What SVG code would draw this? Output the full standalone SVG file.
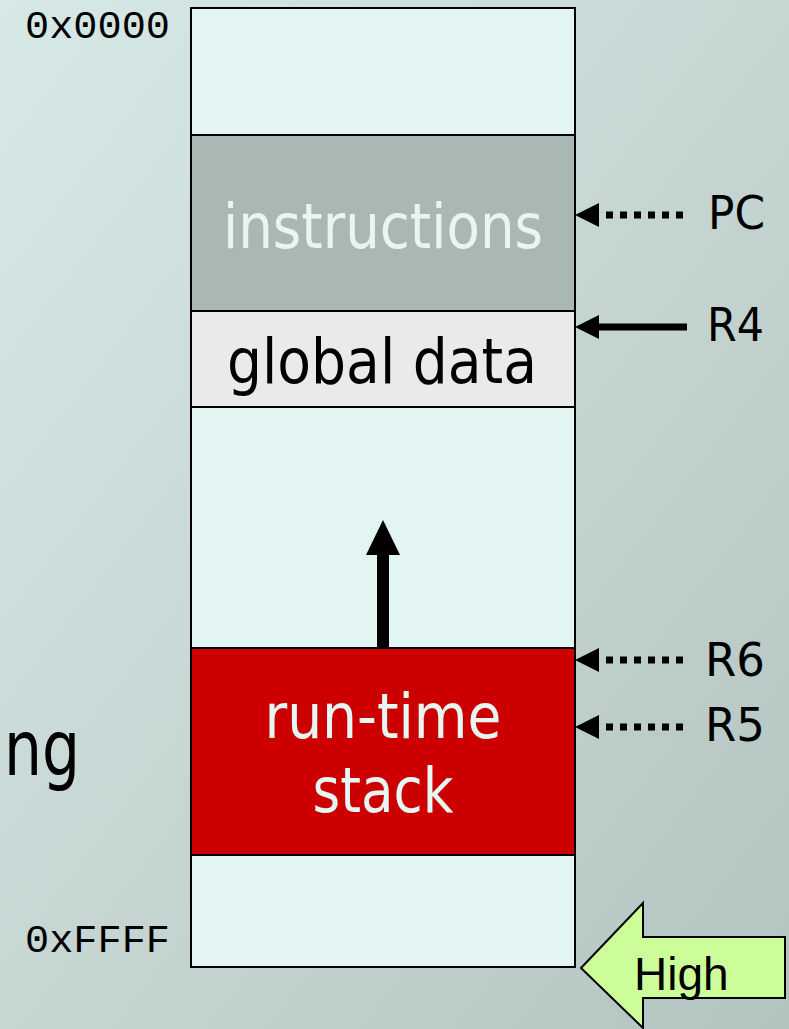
<svg xmlns="http://www.w3.org/2000/svg" width="789" height="1029" viewBox="0 0 789 1029">
<defs>
<linearGradient id="bg" x1="0" y1="0" x2="1" y2="1">
<stop offset="0" stop-color="#d7e9e6"/>
<stop offset="1" stop-color="#b3c3c0"/>
</linearGradient>
<style>
.seg{stroke:#000;stroke-width:2}
.lbl{font-family:"DejaVu Sans",Verdana,sans-serif;text-anchor:middle}
.reg{font-family:"DejaVu Sans",Verdana,sans-serif;font-size:46px;fill:#000}
.mono{font-family:"Liberation Mono","Courier New",monospace;font-size:38px;fill:#000}
.ptr{stroke:#000;stroke-width:7;fill:none}
.dot{stroke-dasharray:7 7}
</style>
</defs>
<rect x="0" y="0" width="789" height="1029" fill="url(#bg)"/>
<text x="4" y="775" textLength="76" lengthAdjust="spacingAndGlyphs" style="font-family:'DejaVu Sans',Verdana,sans-serif;font-size:77px" fill="#000">ng</text>
<g id="memory">
<rect class="seg" x="191" y="8" width="384" height="959" fill="#e3f5f2"/>
</g>
<g id="instructions">
<rect class="seg" x="191" y="135" width="384" height="176" fill="#a9b8b5"/>
<text class="lbl" x="383" y="248" font-size="62" fill="#e6f6f2" textLength="320" lengthAdjust="spacingAndGlyphs">instructions</text>
</g>
<g id="global-data">
<rect class="seg" x="191" y="311" width="384" height="96" fill="#e9ebeb"/>
<text class="lbl" x="382" y="383" font-size="62" fill="#000" textLength="310" lengthAdjust="spacingAndGlyphs">global data</text>
</g>
<g id="stack">
<rect class="seg" x="191" y="648" width="384" height="207" fill="#cc0000"/>
<text class="lbl" x="383" y="738" font-size="62" fill="#e6f6f2" textLength="237" lengthAdjust="spacingAndGlyphs">run-time</text>
<text class="lbl" x="383" y="812" font-size="62" fill="#e6f6f2" textLength="141" lengthAdjust="spacingAndGlyphs">stack</text>
</g>
<g id="addr-labels">
<text class="mono" x="25" y="38" textLength="145" lengthAdjust="spacingAndGlyphs">0x0000</text>
<text class="mono" x="25" y="952" textLength="145" lengthAdjust="spacingAndGlyphs">0xFFFF</text>
</g>
<g id="reg-labels">
<text class="reg" x="708" y="229" textLength="57" lengthAdjust="spacingAndGlyphs">PC</text>
<text class="reg" x="707" y="341" textLength="57" lengthAdjust="spacingAndGlyphs">R4</text>
<text class="reg" x="705" y="676" textLength="60" lengthAdjust="spacingAndGlyphs">R6</text>
<text class="reg" x="705" y="741" textLength="60" lengthAdjust="spacingAndGlyphs">R5</text>
</g>
<g id="connectors">
<line class="ptr dot" x1="683" y1="215" x2="598" y2="215"/>
<path d="M575,215 L599,203 L599,227 Z"/>
<line class="ptr" x1="687" y1="327" x2="598" y2="327"/>
<path d="M575,327 L599,315 L599,339 Z"/>
<line class="ptr dot" x1="683" y1="660" x2="598" y2="660"/>
<path d="M575,660 L599,648 L599,672 Z"/>
<line class="ptr dot" x1="683" y1="727" x2="598" y2="727"/>
<path d="M575,727 L599,715 L599,739 Z"/>
<rect x="377" y="553" width="12" height="95" fill="#000"/>
<path d="M383,520 L400,555 L366,555 Z" fill="#000"/>
</g>
<g id="high">
<path d="M581,968 L643,903 L643,937 L785,937 L785,998 L643,998 L643,1028 Z" fill="#ccfd98" stroke="#000" stroke-width="2"/>
<text x="634" y="990" style="font-family:'Liberation Sans',Arial,sans-serif;font-size:46px" fill="#000">High</text>
</g>
</svg>
